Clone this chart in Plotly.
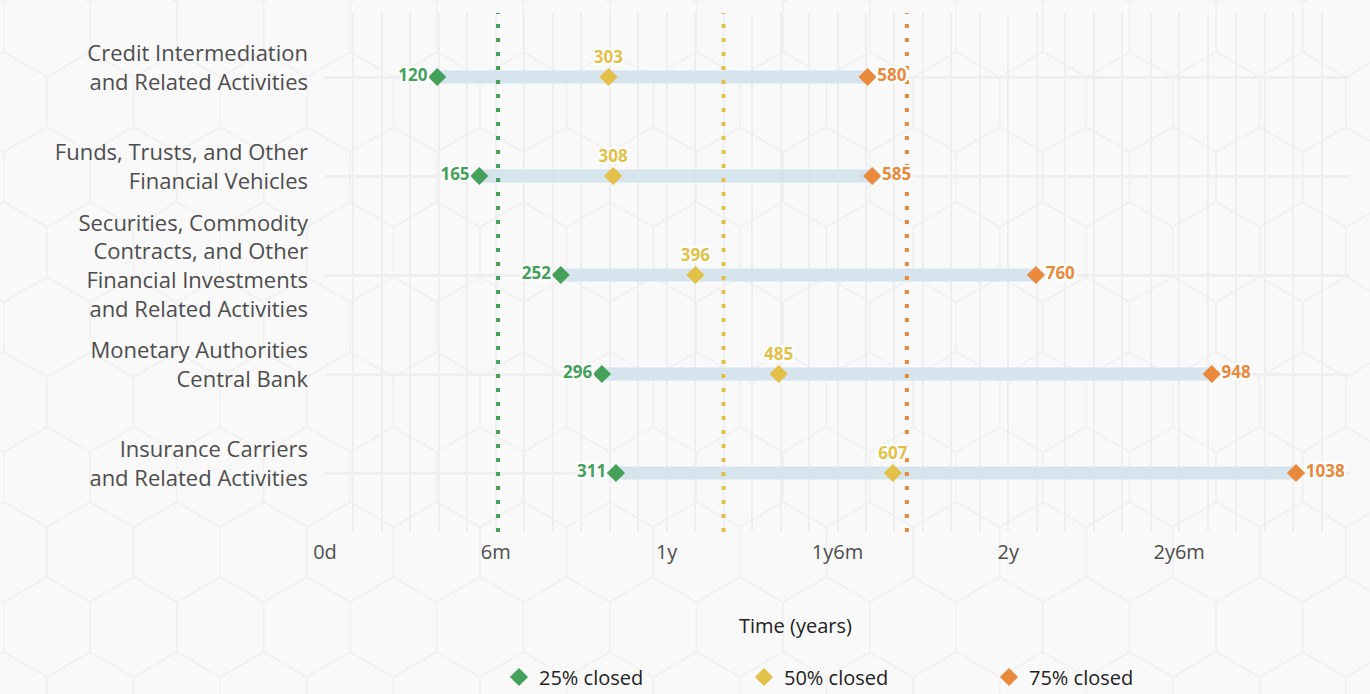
import math
import plotly.graph_objects as go

# ---- data -----------------------------------------------------------------
industries = [
    "Credit Intermediation<br>and Related Activities",
    "Funds, Trusts, and Other<br>Financial Vehicles",
    "Securities, Commodity<br>Contracts, and Other<br>Financial Investments<br>and Related Activities",
    "Monetary Authorities<br>Central Bank",
    "Insurance Carriers<br>and Related Activities",
]
days_25_closed = [120, 165, 252, 296, 311]
days_50_closed = [303, 308, 396, 485, 607]
days_75_closed = [580, 585, 760, 948, 1038]

# sector-wide reference lines (days)
overall_closed = [185, 426, 622]

series_names = ["25% closed", "50% closed", "75% closed"]
series_colors = ["#45A05A", "#E3C048", "#E8893B"]
label_positions = ["middle left", "top center", "middle right"]

tick_months = [0, 6, 12, 18, 24, 30]
tick_labels = ["0d", "6m", "1y", "1y6m", "2y", "2y6m"]
span_months = 36

# ---- layout constants -----------------------------------------------------
W, H = 1370, 694
M_L, M_R, M_T, M_B = 325, 20, 13, 162
PW, PH = W - M_L - M_R, H - M_T - M_B
FONT = "Open Sans"
BG = "#F9F9F9"

days_per_month = 365.25 / 12

# rows from top to bottom
row_pos = list(range(len(industries)))[::-1]
y_range = [-(532 - 473) / 99, (473 - 13) / 99]

fig = go.Figure()

# interquartile bars
bar_x, bar_y = [], []
for yp, lo, hi in zip(row_pos, days_25_closed, days_75_closed):
    bar_x += [lo, hi, None]
    bar_y += [yp, yp, None]
fig.add_trace(go.Scatter(
    x=bar_x, y=bar_y, mode="lines",
    line=dict(color="#D6E4EE", width=13),
    showlegend=False, hoverinfo="skip",
))

# sector-wide dotted reference lines
for name, val, col in zip(series_names, overall_closed, series_colors):
    fig.add_trace(go.Scatter(
        x=[val, val], y=y_range, mode="lines", legendgroup=name,
        line=dict(color=col, width=4, dash="4px,10px"),
        showlegend=False, hoverinfo="skip",
    ))

halo = ", ".join(f"{dx}px {dy}px 0 #FFFFFF" for dx in (-2, 0, 2) for dy in (-2, 0, 2)
                 if (dx, dy) != (0, 0))

for name, vals, col, pos in zip(series_names,
                                [days_25_closed, days_50_closed, days_75_closed],
                                series_colors, label_positions):
    fig.add_trace(go.Scatter(
        x=vals, y=row_pos, mode="markers+text", name=name, legendgroup=name,
        marker=dict(symbol="diamond", size=14, color=col),
        text=[str(v) for v in vals], textposition=pos,
        textfont=dict(family=FONT, size=17, color=col, weight="bold", shadow=halo),
        cliponaxis=False,
    ))

# faint hexagon background pattern
def px_to_paper(px, py):
    return (px - M_L) / PW, (H - M_B - py) / PH

side = 50.0
half_w = side * math.sqrt(3) / 2
path = []
for k in range(-2, 11):
    cy = 552 - 75 * k
    x_start = 90.3 if k % 2 == 0 else 47.0
    for j in range(-2, 18):
        cx = x_start + 2 * half_w * j
        pts = [(cx, cy - side), (cx + half_w, cy - side / 2), (cx + half_w, cy + side / 2),
               (cx, cy + side), (cx - half_w, cy + side / 2), (cx - half_w, cy - side / 2)]
        pp = [px_to_paper(a, b) for a, b in pts]
        path.append("M" + " L".join(f"{a:.4f},{b:.4f}" for a, b in pp) + " Z")
fig.add_shape(type="path", xref="paper", yref="paper", path=" ".join(path),
              line=dict(color="#F2F2F2", width=2), layer="below")

fig.add_annotation(text="Time (years)", xref="paper", yref="paper",
                   x=(795 - M_L) / PW, y=(H - M_B - 625) / PH,
                   xanchor="center", yanchor="middle",
                   showarrow=False, font=dict(family=FONT, size=20, color="#222222"))

fig.update_xaxes(
    range=[0, span_months * days_per_month],
    tickvals=[m * days_per_month for m in tick_months], ticktext=tick_labels,
    tickfont=dict(family=FONT, size=20, color="#4D4D4D"),
    showgrid=True, gridcolor="#EFEFEF", gridwidth=2,
    minor=dict(dtick=days_per_month, tick0=0, showgrid=True, gridcolor="#EFEFEF", gridwidth=2),
    zeroline=False, showline=False, ticks="", ticklabelstandoff=6,
    fixedrange=True,
)
fig.update_yaxes(
    range=y_range, tickvals=row_pos, ticktext=industries,
    tickfont=dict(family=FONT, size=22, color="#4D4D4D"),
    showgrid=True, gridcolor="#EFEFEF", gridwidth=3,
    zeroline=False, showline=False, ticks="", ticklabelstandoff=16,
    ticklabelshift=-9,
    fixedrange=True,
)

fig.update_layout(
    width=W, height=H, autosize=False,
    margin=dict(l=M_L, r=M_R, t=M_T, b=M_B, autoexpand=False),
    paper_bgcolor=BG, plot_bgcolor="rgba(0,0,0,0)",
    font=dict(family=FONT, color="#222222"),
    legend=dict(orientation="h", x=(499 - M_L) / PW, xanchor="left",
                y=(H - M_B - 677) / PH, yanchor="middle",
                font=dict(family=FONT, size=20, color="#222222"),
                entrywidth=200, entrywidthmode="pixels",
                bgcolor="rgba(0,0,0,0)"),
    showlegend=True,
    hovermode=False,
)

fig.write_html("out.html")
